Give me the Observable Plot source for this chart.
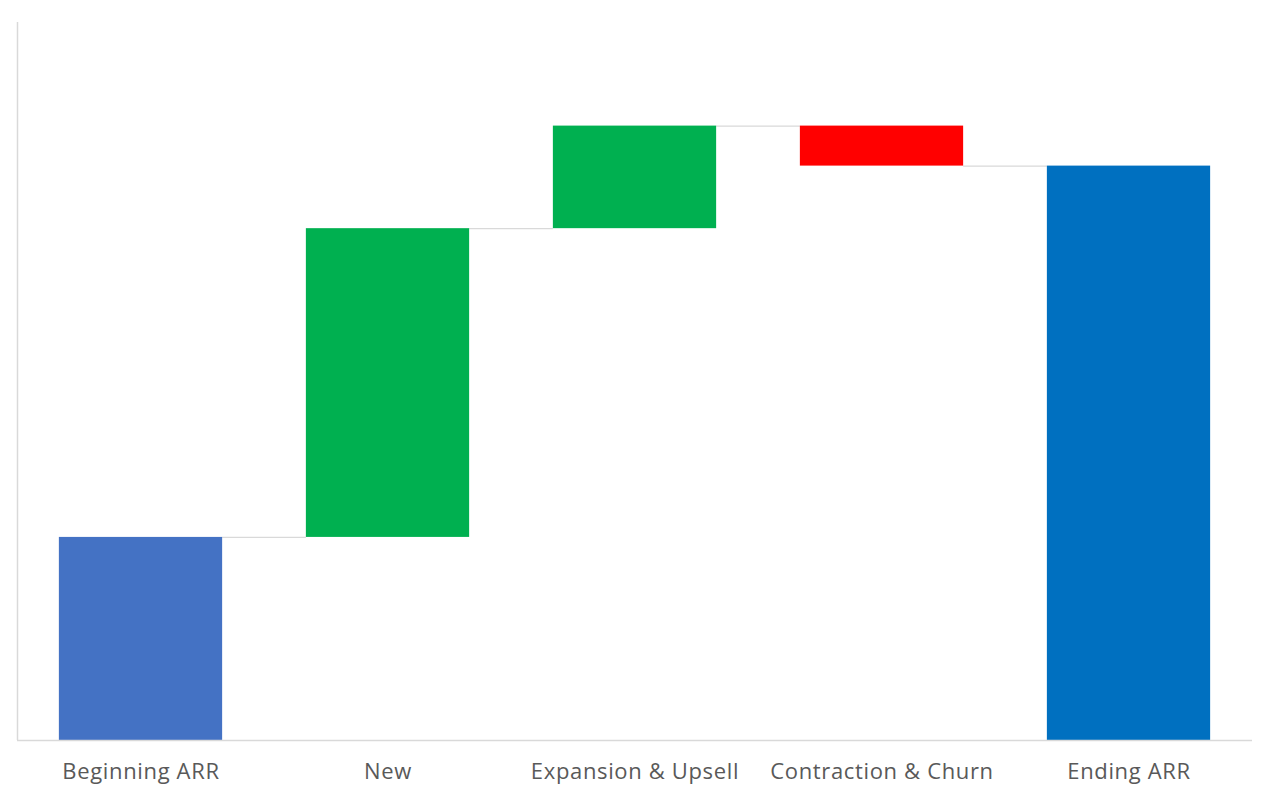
<!DOCTYPE html>
<html>
<head>
<meta charset="utf-8">
<script src="https://cdn.jsdelivr.net/npm/d3@7"></script>
<script src="https://cdn.jsdelivr.net/npm/@observablehq/plot@0.6"></script>
<style>
  html, body { margin: 0; padding: 0; background: #fff; }
  #chart svg { display: block; }
  #chart svg text { letter-spacing: 0.65px; }
</style>
</head>
<body>
<div id="chart"></div>
<script>
const categories = ["Beginning ARR", "New", "Expansion & Upsell", "Contraction & Churn", "Ending ARR"];
const values = [1.98, 3.01, 1.0, -0.39, 5.6];
const kinds = ["total", "delta", "delta", "delta", "total"];
const barColors = ["#4472C4", "#00B050", "#00B050", "#FF0000", "#0070C0"];
const yMax = 7.0;

const half = 0.3305;
let running = 0;
const bars = categories.map((c, i) => {
  let y1, y2;
  if (kinds[i] === "total") { y1 = 0; y2 = values[i]; running = values[i]; }
  else { y1 = running; y2 = running + values[i]; running = y2; }
  return {i, c, y1, y2, end: running, color: barColors[i]};
});
const connectors = bars.slice(0, -1).map(b => ({x1: b.i + half, x2: b.i + 1 - half, y: b.end}));

const plot = Plot.plot({
  width: 1271,
  height: 799,
  marginLeft: 17,
  marginRight: 19,
  marginTop: 22,
  marginBottom: 59,
  style: {fontFamily: "'Open Sans', sans-serif", background: "#fff"},
  x: {domain: [-0.5, 4.5], axis: null},
  y: {domain: [0, yMax], axis: null},
  marks: [
    Plot.ruleY(connectors, {x1: "x1", x2: "x2", y: "y", stroke: "#D9D9D9", strokeWidth: 1.2}),
    Plot.rectY(bars, {x1: d => d.i - half, x2: d => d.i + half, y1: "y1", y2: "y2", fill: "color"}),
    Plot.ruleX([-0.5], {y1: 0, y2: yMax, stroke: "#D9D9D9", strokeWidth: 1.5}),
    Plot.ruleY([0], {x1: -0.5, x2: 4.5, stroke: "#D9D9D9", strokeWidth: 1.5}),
    Plot.text(bars, {x: "i", y: 0, text: "c", dy: 31, fontSize: 22, fill: "#595959", lineAnchor: "middle"})
  ]
});
document.getElementById("chart").appendChild(plot);
</script>
</body>
</html>
